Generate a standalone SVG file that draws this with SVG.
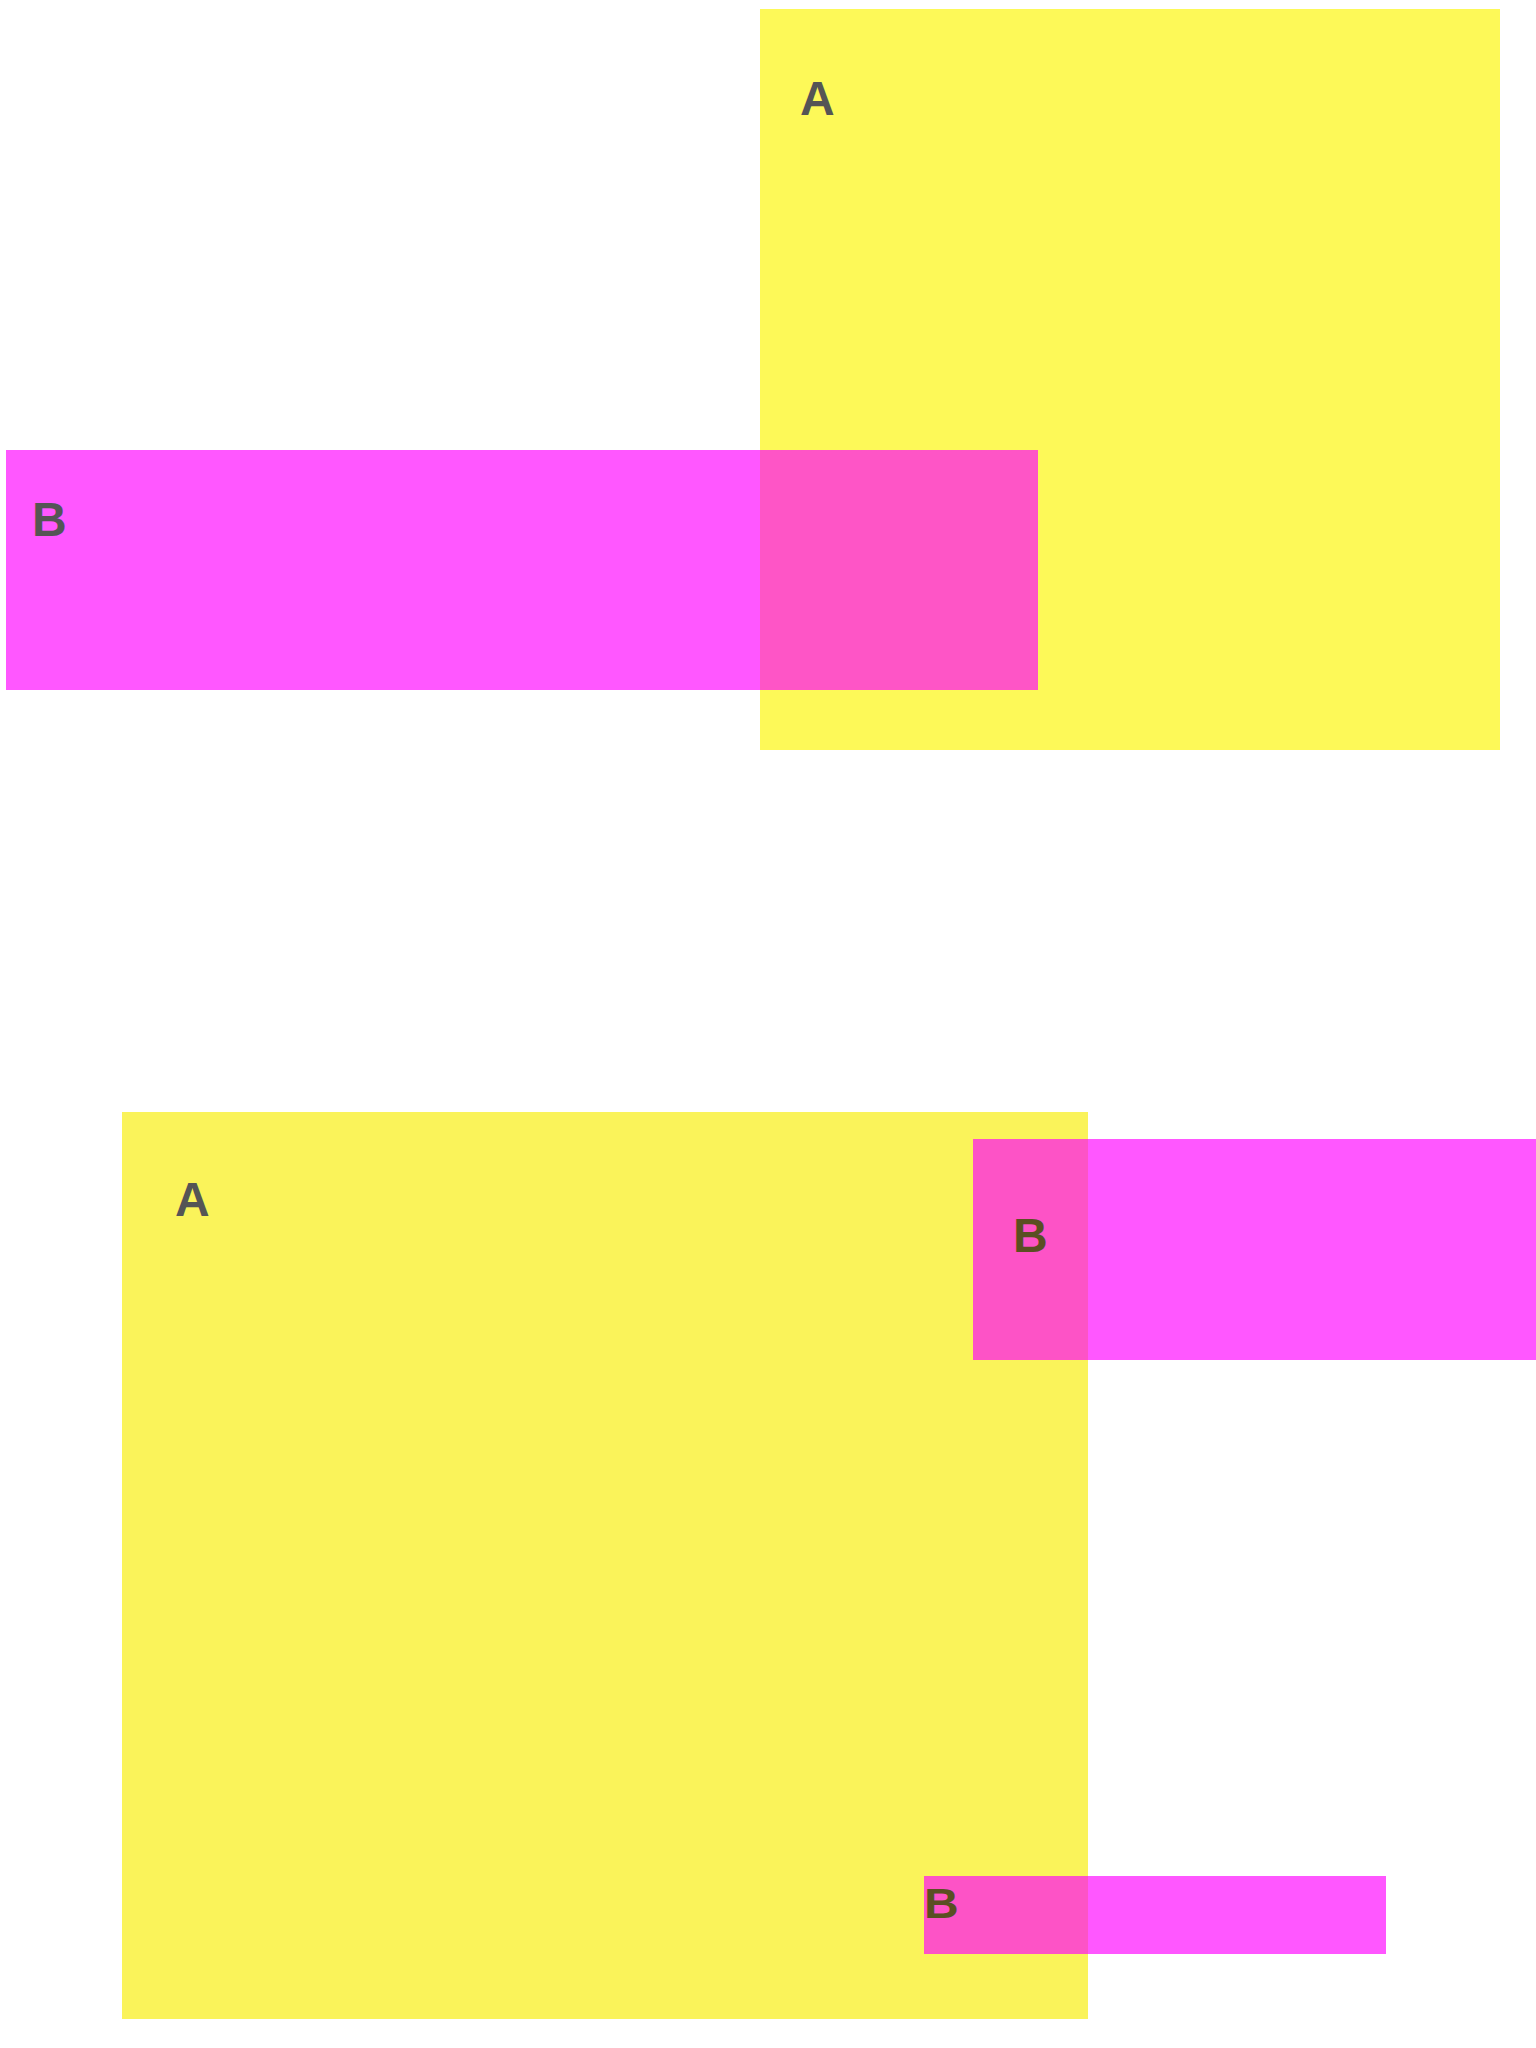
<svg xmlns="http://www.w3.org/2000/svg" width="1536" height="2048" viewBox="0 0 1536 2048">
<style>
.y{fill:#fdf958}
.y2{fill:#faf35a}
.m{fill:#ff00ff;fill-opacity:0.66}
.t{font-family:"Liberation Sans",Arial,sans-serif;font-weight:bold;fill:#555555;font-size:48px}
.o{fill:#5a4f22}
</style>
<rect width="1536" height="2048" fill="#ffffff"/>
<g id="top-A"><rect class="y" x="760" y="9" width="740" height="741"/><text class="t" x="800" y="115">A</text></g>
<g id="top-B"><rect class="m" x="6" y="450" width="1032" height="240"/><text class="t" x="32" y="536">B</text></g>
<g id="bottom-A"><rect class="y2" x="122" y="1112" width="966" height="907"/><text class="t" x="175" y="1216">A</text></g>
<g id="bottom-B1"><rect class="m" x="973" y="1139" width="570" height="221"/><text class="t o" x="1013" y="1252">B</text></g>
<g id="bottom-B2"><rect class="m" x="924" y="1876" width="462" height="78"/><text class="t o" transform="translate(924,1918) scale(1,0.88)" x="0" y="0">B</text></g>
<g id="connectors"></g>
</svg>
